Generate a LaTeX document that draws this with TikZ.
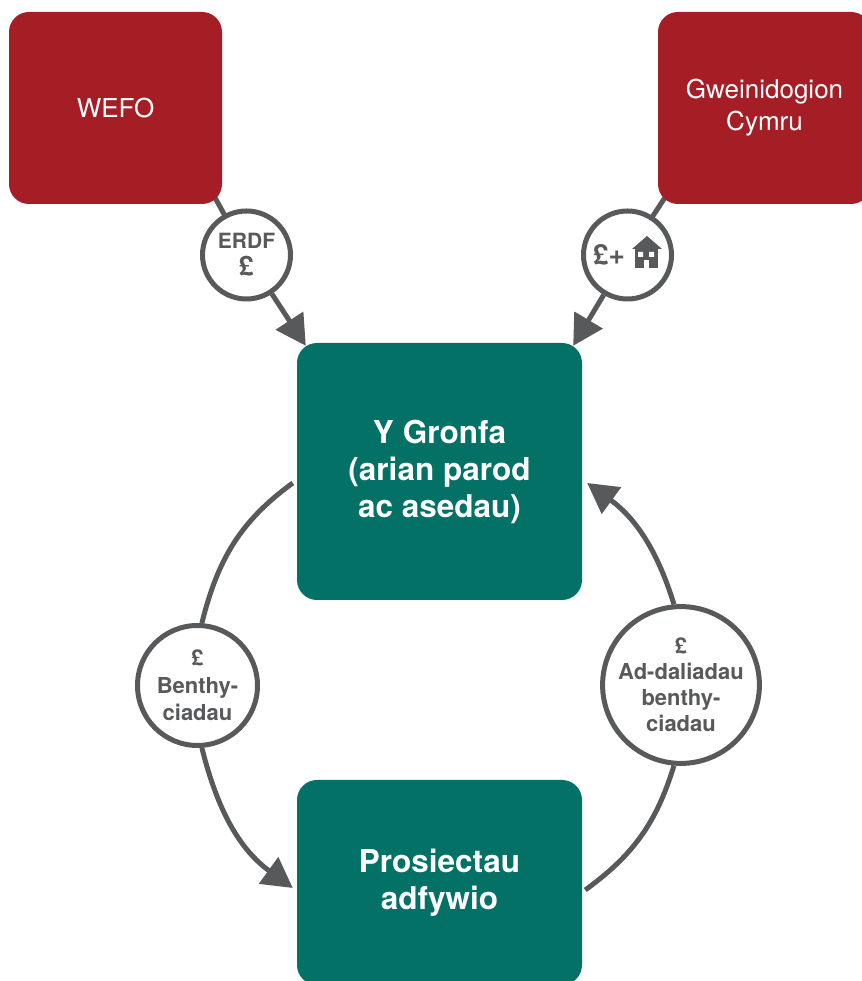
\documentclass[tikz,border=0pt]{standalone}
\usepackage{fontspec}
\setmainfont{TeX Gyre Heros}
\usepackage{xcolor}
\usepackage{tikz}
\usetikzlibrary{arrows.meta,backgrounds}
\definecolor{wgred}{RGB}{165,29,37}
\definecolor{wgteal}{RGB}{3,113,101}
\definecolor{wggrey}{RGB}{88,89,91}

\begin{document}
\begin{tikzpicture}[x=1pt, y=1pt,
  redbox/.style={rectangle, rounded corners=20pt, fill=wgred, text=white, minimum width=213pt, minimum height=192pt, align=center, font=\fontsize{26}{32}\selectfont},
  greenbox/.style={rectangle, rounded corners=20pt, fill=wgteal, text=white, minimum width=285pt, align=center, font=\fontsize{31.5}{37}\selectfont\bfseries},
  flow/.style={circle, draw=wggrey, line width=5pt, fill=white, inner sep=0pt, text=wggrey, align=center},
  link/.style={draw=wggrey, line width=5pt},
  >={Triangle[length=30pt,width=32pt]}]
  \useasboundingbox (0,0) rectangle (861,981);
  \node[redbox] (wefo) at (115.5,873) {WEFO};
  \node[redbox] (gwein) at (764.5,873) {Gweinidogion\\Cymru};
  \node[greenbox, minimum height=257pt] (gronfa) at (439.5,509.5) {Y Gronfa\\(arian parod\\ac asedau)};
  \node[greenbox, minimum height=205pt] (prosiect) at (439.5,98.5) {Prosiectau\\adfywio};
  \node[flow, minimum size=88pt, font=\fontsize{21}{27}\selectfont\bfseries] (erdf) at (246.5,726) {ERDF\\{\fontsize{27}{27}\selectfont £}};
  \node[flow, minimum size=88pt, font=\fontsize{28}{28}\selectfont\bfseries] (house) at (627.5,726) {£+\hspace{37pt}};
  \node[flow, minimum size=120pt, font=\fontsize{22}{27.5}\selectfont\bfseries] (benth) at (197.5,295.5) {£\\Benthy-\\ciadau};
  \node[flow, minimum size=146pt, font=\fontsize{22}{26}\selectfont\bfseries] (adbenth) at (681,296) {£\\Ad-daliadau\\benthy-\\ciadau};

  \begin{scope}[on background layer]
    \draw[link] (erdf.center) -- ([shift={(-8pt,8pt)}]wefo.south east);
    \draw[link] (house.center) -- ([shift={(8pt,8pt)}]gwein.south west);
  \end{scope}

  \draw[link,->] (erdf) -- ([shift={(9pt,-3pt)}]gronfa.north west);
  \draw[link,->] (house) -- ([shift={(-9pt,-3pt)}]gronfa.north east);
  \draw[link] ([shift={(-4pt,-11.5pt)}]gronfa.west) to[out=216,in=76] (benth.86);
  \draw[link,->] (benth.274) to[out=284,in=144] ([shift={(-4pt,-5.5pt)}]prosiect.west);
  \draw[link] ([shift={(3pt,-7.5pt)}]prosiect.east) to[out=36,in=253] (adbenth.265);
  \draw[link,->] (adbenth.95) to[out=107,in=324] ([shift={(5pt,-11.5pt)}]gronfa.east);

  \begin{scope}[shift={(house.center)}]
    \fill[wggrey] (4.5,6) -- (19.5,19) -- (34.5,6) -- cycle;
    \fill[wggrey] (7.5,7) rectangle (30.5,-13);
    \fill[white] (10.5,3) rectangle (15.5,-2) (21.5,3) rectangle (26.5,-2);
    \fill[white] (16.5,-5) rectangle (21.5,-13.2);
  \end{scope}
\end{tikzpicture}
\end{document}
